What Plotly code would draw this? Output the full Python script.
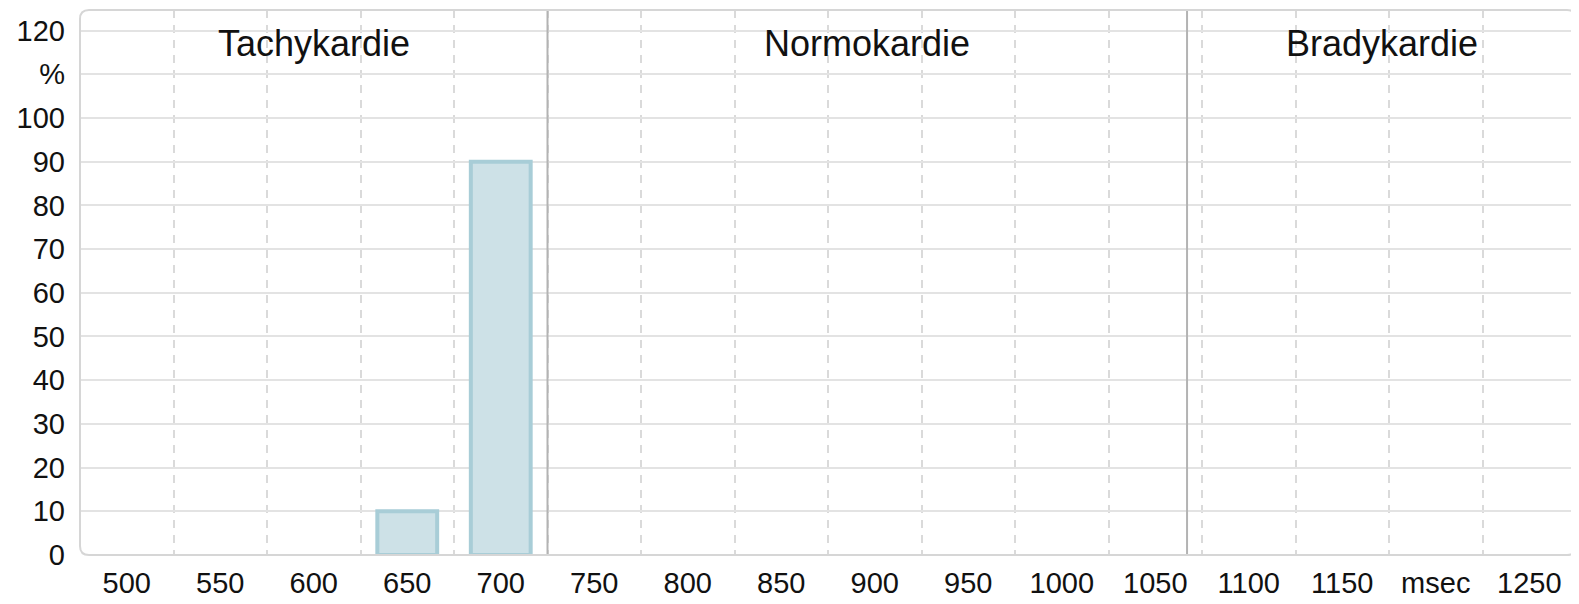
import plotly.graph_objects as go

# Daten: RR-Intervall-Verteilung
bins_ms = [500, 550, 600, 650, 700, 750, 800, 850, 900, 950, 1000, 1050, 1100, 1150, 1200, 1250]
prozent = [0, 0, 0, 10, 90, 0, 0, 0, 0, 0, 0, 0, 0, 0, 0, 0]
x_labels = ['500', '550', '600', '650', '700', '750', '800', '850', '900', '950',
            '1000', '1050', '1100', '1150', 'msec', '1250']
y_vals = [0, 10, 20, 30, 40, 50, 60, 70, 80, 90, 100, 110, 120]
y_labels = ['0', '10', '20', '30', '40', '50', '60', '70', '80', '90', '100', '%', '120']

# Zonengrenzen (msec) und Beschriftungen
zonen_grenzen = [725, 1067]
zonen_namen = ['Tachykardie', 'Normokardie', 'Bradykardie']
zonen_label_y = 117

FONT = 'Liberation Sans, Arial, Helvetica, sans-serif'


def ms_to_idx(ms):
    # Position auf der kategorialen Achse (Kategorie i liegt bei i)
    return (ms - bins_ms[0]) / (bins_ms[1] - bins_ms[0])


x_cat = [str(b) for b in bins_ms]
# leere Klassen ohne Rand zeichnen
rand = [4 if v > 0 else 0 for v in prozent]

fig = go.Figure()
fig.add_trace(go.Bar(
    x=x_cat,
    y=prozent,
    marker=dict(color='#cde1e7', line=dict(color='#a8cdd7', width=rand)),
    hoverinfo='x+y',
))

# Trennlinien der Zonen
for g in zonen_grenzen:
    fig.add_shape(type='line', xref='x', yref='paper',
                  x0=ms_to_idx(g), x1=ms_to_idx(g), y0=0, y1=1,
                  line=dict(color='#b3b3b3', width=2), layer='above')

# Zonenbeschriftungen mittig in jeder Zone
x_start = -0.5
x_end = len(bins_ms) - 0.5
kanten = [x_start] + [ms_to_idx(g) for g in zonen_grenzen] + [x_end]
for i, name in enumerate(zonen_namen):
    fig.add_annotation(x=(kanten[i] + kanten[i + 1]) / 2, y=zonen_label_y,
                       xref='x', yref='y', text=name, showarrow=False,
                       font=dict(family=FONT, size=36, color='#111'))

# Abgerundeter Rahmen um den Plotbereich (paper-Koordinaten)
pw, ph = 1496.0, 545.0
rx, ry = 9 / pw, 9 / ph
rahmen = (f'M {rx},0 L {1 - rx},0 Q 1,0 1,{ry} L 1,{1 - ry} Q 1,1 {1 - rx},1 '
          f'L {rx},1 Q 0,1 0,{1 - ry} L 0,{ry} Q 0,0 {rx},0 Z')
fig.add_shape(type='path', xref='paper', yref='paper', path=rahmen,
              line=dict(color='#d6d6d6', width=2), layer='above')

# Seite hat 8px Body-Rand -> Figur entsprechend kleiner
fig.update_layout(
    width=1571,
    height=596,
    margin=dict(l=72, r=3, t=2, b=49, autoexpand=False),
    plot_bgcolor='white',
    paper_bgcolor='white',
    bargap=0.36,
    showlegend=False,
    font=dict(family=FONT, size=29, color='#111'),
    xaxis=dict(
        type='category',
        categoryorder='array',
        categoryarray=x_cat,
        tickvals=x_cat,
        ticktext=x_labels,
        tickson='boundaries',
        showgrid=True,
        gridcolor='#dadada',
        gridwidth=1.5,
        griddash='8px,7px',
        ticks='',
        ticklabelstandoff=8,
        range=[x_start, x_end],
        showline=False,
        zeroline=False,
        automargin=False,
    ),
    yaxis=dict(
        range=[0, 124.7],
        tickvals=y_vals,
        ticktext=y_labels,
        showgrid=True,
        gridcolor='#e3e3e3',
        gridwidth=2,
        ticks='',
        ticklabelstandoff=14,
        showline=False,
        zeroline=False,
        automargin=False,
    ),
)

fig.write_html('out.html')
